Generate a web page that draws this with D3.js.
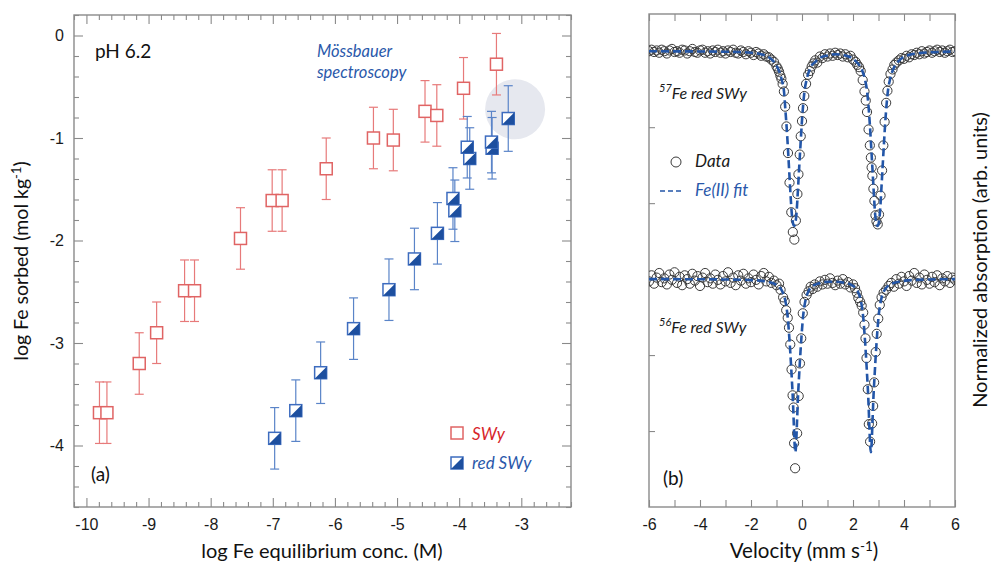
<!DOCTYPE html>
<html><head><meta charset="utf-8">
<script src="https://cdn.jsdelivr.net/npm/d3@7"></script>
<style>body{margin:0;background:#fff} svg{display:block}</style>
</head><body>
<svg id="c" width="993" height="565"></svg>
<script>
// ---------- Panel (a): sorption isotherm ----------
const swyX   = [-9.79,-9.67,-9.15,-8.87,-8.42,-8.26,-7.52,-7.01,-6.85,-6.14,-5.38,-5.06,-4.55,-4.36,-3.93,-3.40];
const swyY   = [-3.68,-3.68,-3.20,-2.90,-2.49,-2.49,-1.98,-1.61,-1.61,-1.30,-1.00,-1.02,-0.74,-0.78,-0.515,-0.28];
const swyErr = [0.3,0.3,0.3,0.3,0.3,0.3,0.3,0.3,0.3,0.3,0.3,0.3,0.3,0.3,0.3,0.3];

const redSwyX   = [-6.97,-6.63,-6.23,-5.70,-5.13,-4.72,-4.35,-4.07,-4.10,-3.83,-3.87,-3.47,-3.48,-3.21];
const redSwyY   = [-3.93,-3.66,-3.29,-2.86,-2.48,-2.18,-1.93,-1.71,-1.59,-1.20,-1.09,-1.10,-1.04,-0.81];
const redSwyErr = [0.3,0.3,0.3,0.3,0.3,0.3,0.3,0.3,0.3,0.3,0.3,0.3,0.3,0.32];

const xTicksA = [-10,-9,-8,-7,-6,-5,-4,-3];
const yTicksA = [-4,-3,-2,-1,0];
const highlight = {x:-3.1, y:-0.72};

// ---------- Panel (b): Mossbauer spectra ----------
const s57V = [-6.0,-5.9,-5.8,-5.7,-5.6,-5.5,-5.4,-5.3,-5.2,-5.1,-5.0,-4.9,-4.8,-4.7,-4.6,-4.5,-4.4,-4.3,-4.2,-4.1,-4.0,-3.9,-3.8,-3.7,-3.6,-3.5,-3.4,-3.3,-3.2,-3.1,-3.0,-2.9,-2.8,-2.7,-2.6,-2.5,-2.4,-2.3,-2.2,-2.1,-2.0,-1.9,-1.8,-1.7,-1.6,-1.5,-1.4,-1.3,-1.2,-1.1,-1.0,-0.95,-0.9,-0.85,
  -0.81,-0.76,-0.71,-0.66,-0.61,-0.55,-0.49,-0.42,-0.36,-0.30,-0.24,-0.18,-0.14,-0.09,-0.05,0.0,0.04,0.09,0.16,0.24,0.31,0.38,0.45,
  0.52,0.6,0.7,0.8,0.9,1.0,1.1,1.2,1.3,1.4,1.5,1.6,1.7,1.8,1.9,2.0,2.1,2.17,
  2.24,2.30,2.38,2.45,2.50,2.55,2.61,2.66,2.70,2.73,2.76,2.80,2.84,2.88,2.92,2.97,3.02,3.08,3.14,3.19,3.24,3.30,3.35,3.40,3.47,3.55,3.62,3.70,
  3.8,3.9,4.0,4.1,4.2,4.3,4.4,4.5,4.6,4.7,4.8,4.9,5.0,5.1,5.2,5.3,5.4,5.5,5.6,5.7,5.8,5.9,6.0];
const s57A = [6.00,6.02,5.99,6.01,5.98,6.02,6.00,5.97,6.01,6.03,5.99,6.00,5.98,6.02,6.01,5.97,6.00,6.03,5.99,5.98,6.01,6.02,5.98,6.00,5.97,6.01,5.99,6.02,5.98,6.00,5.97,6.01,5.99,6.02,5.98,5.97,6.01,5.99,5.96,6.00,5.98,5.95,5.99,5.97,5.94,5.96,5.93,5.92,5.89,5.86,5.80,5.77,5.73,5.68,
  5.64,5.57,5.47,5.27,5.01,4.66,4.27,3.88,3.62,3.52,3.77,4.12,4.38,4.64,4.88,5.08,5.25,5.41,5.57,5.69,5.74,5.80,5.84,
  5.88,5.85,5.93,5.91,5.96,5.93,5.97,5.94,5.98,5.95,5.97,5.93,5.96,5.92,5.94,5.89,5.86,5.82,
  5.79,5.74,5.62,5.47,5.35,5.20,4.97,4.76,4.60,4.47,4.36,4.19,4.03,3.84,3.76,3.72,3.85,4.10,4.43,4.76,5.07,5.32,5.48,5.60,5.70,5.76,5.82,5.85,
  5.88,5.91,5.90,5.94,5.92,5.96,5.95,5.98,5.96,6.00,5.97,5.99,6.01,5.98,6.00,6.02,5.99,6.01,5.98,6.00,6.02,5.99,6.00];

const fit57V = [-6.0,-5.0,-4.0,-3.0,-2.5,-2.0,-1.6,-1.3,-1.1,-1.0,-0.9,-0.8,-0.7,-0.65,-0.6,-0.55,-0.5,-0.45,-0.4,-0.35,-0.31,-0.26,-0.21,-0.16,-0.11,-0.06,-0.01,0.04,0.09,0.19,0.29,0.39,0.49,0.69,1.0,1.34,1.7,1.96,2.16,2.26,2.36,2.46,2.56,2.61,2.66,2.71,2.76,2.81,2.86,2.91,2.96,3.01,3.06,3.11,3.16,3.21,3.26,3.31,3.36,3.46,3.56,3.66,3.76,3.96,4.3,4.6,5.0,6.0];
const fit57A = [6.00,5.998,5.997,5.993,5.99,5.98,5.96,5.92,5.86,5.81,5.74,5.63,5.45,5.22,4.99,4.71,4.41,4.11,3.86,3.73,3.70,3.74,3.89,4.17,4.47,4.76,5.04,5.27,5.45,5.64,5.75,5.82,5.85,5.91,5.945,5.96,5.945,5.91,5.85,5.81,5.745,5.64,5.45,5.27,5.04,4.76,4.47,4.17,3.89,3.74,3.70,3.74,3.89,4.17,4.47,4.76,5.04,5.27,5.45,5.64,5.75,5.82,5.86,5.92,5.96,5.975,5.985,5.995];

const s56V = [-6.0,-5.9,-5.8,-5.7,-5.6,-5.5,-5.4,-5.3,-5.2,-5.1,-5.0,-4.9,-4.8,-4.7,-4.6,-4.5,-4.4,-4.3,-4.2,-4.1,-4.0,-3.9,-3.8,-3.7,-3.6,-3.5,-3.4,-3.3,-3.2,-3.1,-3.0,-2.9,-2.8,-2.7,-2.6,-2.5,-2.4,-2.3,-2.2,-2.1,-2.0,-1.9,-1.8,-1.7,-1.6,-1.5,-1.4,-1.3,-1.2,-1.1,-1.0,-0.9,-0.84,
  -0.74,-0.68,-0.62,-0.56,-0.51,-0.46,-0.41,-0.37,-0.33,-0.31,-0.27,-0.19,-0.13,-0.08,-0.03,0.03,0.10,0.18,0.26,0.34,0.42,0.50,
  0.6,0.7,0.8,0.9,1.0,1.1,1.2,1.3,1.4,1.5,1.6,1.7,1.8,1.9,2.0,
  2.08,2.15,2.21,2.28,2.34,2.40,2.45,2.49,2.53,2.58,2.62,2.67,2.75,2.79,2.83,2.89,2.93,2.99,3.05,3.12,3.20,3.30,3.40,
  3.5,3.6,3.7,3.8,3.9,4.0,4.1,4.2,4.3,4.4,4.5,4.6,4.7,4.8,4.9,5.0,5.1,5.2,5.3,5.4,5.5,5.6,5.7,5.8,5.9,6.0];
const s56A = [2.97,3.05,2.94,3.02,3.08,2.96,3.01,2.93,3.06,2.99,3.09,2.95,3.03,2.92,3.05,3.00,2.94,3.07,2.98,3.04,2.91,3.02,3.08,2.96,3.01,2.94,3.06,2.99,2.93,3.04,2.97,3.09,2.95,3.02,2.92,3.05,2.98,3.07,2.94,3.01,2.96,3.06,2.99,2.93,3.04,3.08,2.97,3.03,2.95,2.98,2.92,2.94,2.86,
  2.76,2.71,2.59,2.49,2.36,2.14,1.81,1.47,1.31,0.84,0.51,0.97,1.46,1.89,2.22,2.55,2.70,2.79,2.84,2.90,2.87,2.93,
  2.90,2.97,2.93,2.99,2.94,3.01,2.95,2.92,2.98,2.94,3.00,2.93,2.96,2.89,2.93,
  2.88,2.82,2.75,2.70,2.65,2.56,2.40,2.22,1.96,1.55,1.09,0.86,1.10,1.33,1.64,2.04,2.28,2.48,2.66,2.76,2.82,2.86,2.91,
  2.95,2.90,3.00,2.94,3.03,2.97,2.91,3.04,2.98,3.08,2.95,3.02,2.93,3.06,2.99,2.94,3.03,2.96,3.05,2.92,3.01,2.97,3.04,2.95,3.02,2.99];

const fit56V = [-6.0,-4.0,-3.0,-2.2,-1.56,-1.26,-1.06,-0.86,-0.76,-0.66,-0.61,-0.56,-0.51,-0.46,-0.41,-0.36,-0.32,-0.29,-0.26,-0.23,-0.20,-0.16,-0.11,-0.06,-0.01,0.04,0.09,0.14,0.24,0.34,0.54,0.74,1.04,1.3,1.7,1.9,2.1,2.2,2.3,2.35,2.4,2.45,2.5,2.55,2.6,2.64,2.67,2.70,2.73,2.76,2.80,2.85,2.90,2.95,3.00,3.05,3.10,3.20,3.30,3.50,3.70,4.0,4.5,5.0,6.0];
const fit56A = [3.00,2.998,2.995,2.99,2.977,2.958,2.935,2.886,2.83,2.726,2.635,2.50,2.29,2.04,1.75,1.43,1.08,0.83,0.72,0.83,1.08,1.43,1.75,2.04,2.29,2.50,2.635,2.726,2.83,2.886,2.93,2.95,2.966,2.966,2.95,2.93,2.88,2.83,2.726,2.635,2.50,2.29,2.04,1.75,1.43,1.08,0.83,0.72,0.83,1.08,1.43,1.75,2.04,2.29,2.50,2.635,2.726,2.83,2.886,2.935,2.958,2.977,2.99,2.995,3.00];

const xTicksB = [-6,-5,-4,-3,-2,-1,0,1,2,3,4,5,6];
const yTicksB = [1,2,3,4,5,6];

// ---------- drawing ----------
const svg = d3.select("#c");
const TXT = "Lato, 'Open Sans', sans-serif";
const NUM = "'Liberation Sans', Arial, sans-serif";
const RED = "#e06464", RED_T = "#d7262b";
const BLUE = "#3d6cbf", BLUE_D = "#1d4f9f", BLUE_T = "#2a58aa";
const GRAY = "#8a8a8a";

function styleAxis(g) {
  g.select(".domain").remove();
  g.selectAll("line").attr("stroke", GRAY).attr("stroke-width", 1.1);
  g.selectAll("text").attr("fill", "#1a1a1a").attr("font-family", NUM).attr("font-size", 16);
}

// Panel a scales
const xL = d3.scaleLinear([-10.2, -2.2], [74, 571]);
const yL = d3.scaleLinear([-4.6, 0.2], [507, 15]);
const minorXA = d3.range(-10.2, -2.19, 0.2).map(v => +v.toFixed(1)).filter(v => !Number.isInteger(v));
const minorYA = d3.range(-4.6, 0.21, 0.2).map(v => +v.toFixed(1)).filter(v => !Number.isInteger(v));

const gA = svg.append("g");
gA.append("circle").attr("cx", xL(highlight.x)).attr("cy", yL(highlight.y)).attr("r", 30).attr("fill", "#e6e8ef");

gA.append("g").attr("transform", "translate(0,507)").call(d3.axisBottom(xL).tickValues(xTicksA).tickSize(-9).tickPadding(12).tickFormat(d => String(d))).call(styleAxis);
gA.append("g").attr("transform", "translate(0,507)").call(d3.axisBottom(xL).tickValues(minorXA).tickSize(-5).tickFormat("")).call(styleAxis);
gA.append("g").attr("transform", "translate(0,15)").call(d3.axisTop(xL).tickValues(xTicksA).tickSize(-9).tickFormat("")).call(styleAxis);
gA.append("g").attr("transform", "translate(0,15)").call(d3.axisTop(xL).tickValues(minorXA).tickSize(-5).tickFormat("")).call(styleAxis);
gA.append("g").attr("transform", "translate(74,0)").call(d3.axisLeft(yL).tickValues(yTicksA).tickSize(-9).tickPadding(10).tickFormat(d => String(d))).call(styleAxis);
gA.append("g").attr("transform", "translate(74,0)").call(d3.axisLeft(yL).tickValues(minorYA).tickSize(-5).tickFormat("")).call(styleAxis);
gA.append("g").attr("transform", "translate(571,0)").call(d3.axisRight(yL).tickValues(yTicksA).tickSize(-9).tickFormat("")).call(styleAxis);
gA.append("g").attr("transform", "translate(571,0)").call(d3.axisRight(yL).tickValues(minorYA).tickSize(-5).tickFormat("")).call(styleAxis);
gA.append("rect").attr("x", 74).attr("y", 15).attr("width", 571 - 74).attr("height", 507 - 15)
  .attr("fill", "none").attr("stroke", GRAY).attr("stroke-width", 1.4);

function errorBars(g, xs, ys, es, color) {
  xs.forEach((x, i) => {
    const cx = xL(x), y0 = yL(ys[i] - es[i]), y1 = yL(ys[i] + es[i]);
    g.append("line").attr("x1", cx).attr("x2", cx).attr("y1", y0).attr("y2", y1).attr("stroke", color).attr("stroke-width", 1.2);
    [y0, y1].forEach(yy => g.append("line").attr("x1", cx - 4.5).attr("x2", cx + 4.5).attr("y1", yy).attr("y2", yy).attr("stroke", color).attr("stroke-width", 1.2));
  });
}
errorBars(gA, swyX, swyY, swyErr, "#e77a7a");
errorBars(gA, redSwyX, redSwyY, redSwyErr, "#5a84c8");

gA.selectAll(".sq").data(swyX).join("rect").attr("class", "sq")
  .attr("x", d => xL(d) - 6).attr("y", (d, i) => yL(swyY[i]) - 6).attr("width", 12).attr("height", 12)
  .attr("fill", "#fff").attr("stroke", RED).attr("stroke-width", 1.5);

function halfSquare(g, cx, cy) {
  const h = g.append("g").attr("transform", `translate(${cx},${cy})`);
  h.append("rect").attr("x", -6).attr("y", -6).attr("width", 12).attr("height", 12).attr("fill", "#fff").attr("stroke", BLUE).attr("stroke-width", 1.5);
  h.append("path").attr("d", "M6,-6L6,6L-6,6Z").attr("fill", BLUE_D);
}
redSwyX.forEach((x, i) => halfSquare(gA, xL(x), yL(redSwyY[i])));

gA.append("rect").attr("x", 451).attr("y", 427).attr("width", 12).attr("height", 12).attr("fill", "#fff").attr("stroke", RED).attr("stroke-width", 1.5);
gA.append("text").attr("x", 472).attr("y", 440).text("SWy").attr("fill", RED_T).attr("font-family", TXT).attr("font-style", "italic").attr("font-size", 17);
halfSquare(gA, 457, 463);
gA.append("text").attr("x", 472).attr("y", 469).text("red SWy").attr("fill", BLUE_T).attr("font-family", TXT).attr("font-style", "italic").attr("font-size", 17);

gA.append("text").attr("x", 95).attr("y", 58).text("pH 6.2").attr("font-family", TXT).attr("font-size", 19).attr("fill", "#111");
gA.append("text").attr("x", 91).attr("y", 481).text("(a)").attr("font-family", TXT).attr("font-size", 19).attr("fill", "#111");
gA.append("text").attr("x", 317).attr("y", 57).text("Mössbauer").attr("font-family", TXT).attr("font-style", "italic").attr("font-size", 16.5).attr("fill", BLUE_T);
gA.append("text").attr("x", 317).attr("y", 78).text("spectroscopy").attr("font-family", TXT).attr("font-style", "italic").attr("font-size", 16.5).attr("fill", BLUE_T);

gA.append("text").attr("x", 322).attr("y", 558).attr("text-anchor", "middle").attr("font-family", TXT).attr("font-size", 20).attr("fill", "#111")
  .text("log Fe equilibrium conc. (M)");
const yLab = gA.append("text").attr("transform", "translate(28,261) rotate(-90)").attr("text-anchor", "middle")
  .attr("font-family", TXT).attr("font-size", 19.5).attr("fill", "#111");
yLab.append("tspan").text("log Fe sorbed (mol kg");
yLab.append("tspan").attr("dy", -7).attr("font-size", 13).text("-1");
yLab.append("tspan").attr("dy", 7).text(")");

// Panel b
const xR = d3.scaleLinear([-6, 6], [649, 955]);
const yR = d3.scaleLinear([0, 6.49], [507, 14]);
const gB = svg.append("g");
gB.append("defs").append("clipPath").attr("id", "clipB").append("rect").attr("x", 649).attr("y", 14).attr("width", 306).attr("height", 493);

gB.append("g").attr("transform", "translate(0,507)").call(d3.axisBottom(xR).tickValues(xTicksB).tickSize(-7).tickPadding(12).tickFormat(d => d % 2 === 0 ? String(d) : "")).call(styleAxis);
gB.append("g").attr("transform", "translate(0,14)").call(d3.axisTop(xR).tickValues(xTicksB).tickSize(-7).tickFormat("")).call(styleAxis);
gB.append("g").attr("transform", "translate(649,0)").call(d3.axisLeft(yR).tickValues(yTicksB).tickSize(-6).tickFormat("")).call(styleAxis);
gB.append("rect").attr("x", 649).attr("y", 14).attr("width", 306).attr("height", 493)
  .attr("fill", "none").attr("stroke", GRAY).attr("stroke-width", 1.4);

const plot = gB.append("g").attr("clip-path", "url(#clipB)");
function spectrum(vs, as) {
  plot.append("g").selectAll("circle").data(vs).join("circle")
    .attr("cx", d => xR(d)).attr("cy", (d, i) => yR(as[i])).attr("r", 4.6)
    .attr("fill", "none").attr("stroke", "#3a3a3a").attr("stroke-width", 1);
}
spectrum(s57V, s57A);
spectrum(s56V, s56A);
const line = d3.line().x(d => xR(d[0])).y(d => yR(d[1])).curve(d3.curveMonotoneX);
function fit(vs, as) {
  plot.append("path").attr("d", line(vs.map((v, i) => [v, as[i]])))
    .attr("fill", "none").attr("stroke", "#2356a8").attr("stroke-width", 2.6).attr("stroke-dasharray", "8,4");
}
fit(fit57V, fit57A);
fit(fit56V, fit56A);

function isoLabel(x, y, mass) {
  const t = gB.append("text").attr("x", x).attr("y", y).attr("font-family", TXT).attr("font-style", "italic").attr("font-size", 16).attr("fill", "#1a1a1a");
  t.append("tspan").attr("dy", -7).attr("font-size", 11).text(mass);
  t.append("tspan").attr("dy", 7).text("Fe red SWy");
}
isoLabel(659, 99, "57");
isoLabel(659, 333, "56");

gB.append("circle").attr("cx", 676).attr("cy", 162).attr("r", 5).attr("fill", "none").attr("stroke", "#3a3a3a").attr("stroke-width", 1);
gB.append("text").attr("x", 695).attr("y", 167).text("Data").attr("font-family", TXT).attr("font-style", "italic").attr("font-size", 17).attr("fill", "#1a1a1a");
gB.append("line").attr("x1", 660).attr("x2", 682).attr("y1", 191).attr("y2", 191).attr("stroke", "#2356a8").attr("stroke-width", 1.6).attr("stroke-dasharray", "5,3");
gB.append("text").attr("x", 695).attr("y", 196).text("Fe(II) fit").attr("font-family", TXT).attr("font-style", "italic").attr("font-size", 17).attr("fill", BLUE_T);
gB.append("text").attr("x", 663).attr("y", 485).text("(b)").attr("font-family", TXT).attr("font-size", 19).attr("fill", "#111");

const vLab = gB.append("text").attr("x", 804).attr("y", 558).attr("text-anchor", "middle").attr("font-family", TXT).attr("font-size", 20.5).attr("fill", "#111");
vLab.append("tspan").text("Velocity (mm s");
vLab.append("tspan").attr("dy", -7).attr("font-size", 13.5).text("-1");
vLab.append("tspan").attr("dy", 7).text(")");
gB.append("text").attr("transform", "translate(987,260) rotate(-90)").attr("text-anchor", "middle")
  .attr("font-family", TXT).attr("font-size", 20).attr("fill", "#111").text("Normalized absorption (arb. units)");
</script>
</body></html>
